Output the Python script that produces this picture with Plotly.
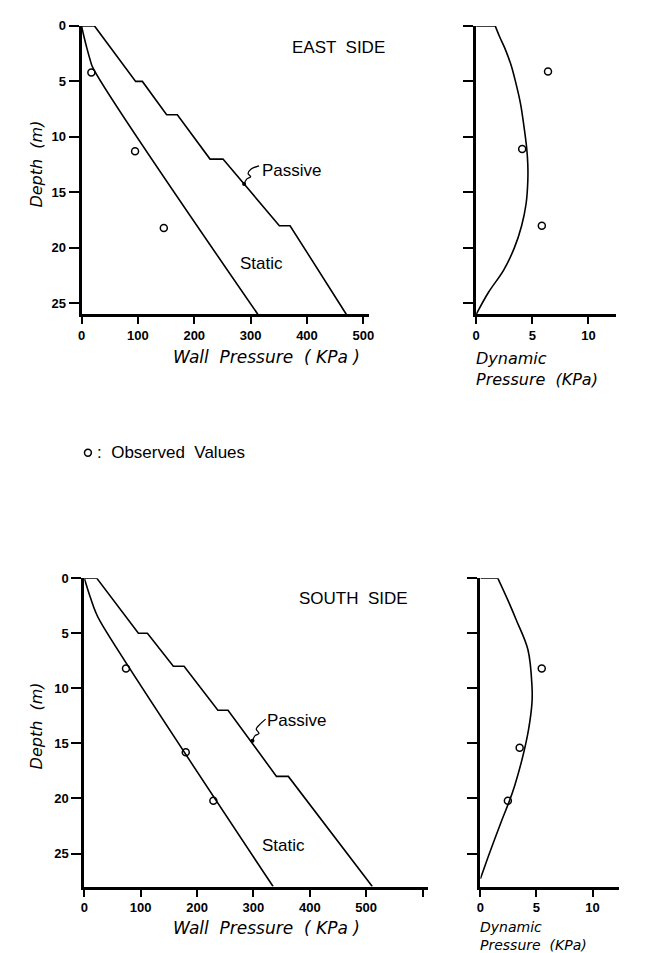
import plotly.graph_objects as go

W, H = 648, 953

# ---------------- data ----------------
east_passive_depth = [0, 0, 5, 5, 8, 8, 12, 12, 18, 18, 26]
east_passive_kpa = [0, 23, 96, 108, 151, 170, 228, 251, 351, 370, 470]
east_static_depth = [0, 1, 2, 3, 3.8, 26]
east_static_kpa = [0, 4.5, 9.5, 15, 20.5, 313]
east_obs_depth = [4.2, 11.3, 18.2]
east_obs_kpa = [17.5, 95, 146]
east_dyn_top_depth = [0, 0]
east_dyn_top_kpa = [0, 1.7]
east_dyn_depth = [0, 1, 2, 3.5, 5, 7, 9, 11, 12.5, 14, 16, 18, 20, 22, 24, 26]
east_dyn_kpa = [1.7, 2.1, 2.55, 3.1, 3.5, 3.95, 4.25, 4.5, 4.6, 4.6, 4.45, 4.05, 3.4, 2.45, 1.1, 0]
east_dyn_obs_depth = [4.1, 11.1, 18.0]
east_dyn_obs_kpa = [6.4, 4.1, 5.85]

south_passive_depth = [0, 0, 5, 5, 8, 8, 12, 12, 18, 18, 28]
south_passive_kpa = [0, 22, 96, 112, 158, 177, 237, 255, 341, 362, 511]
south_static_depth = [0, 1, 2, 3, 4, 28]
south_static_kpa = [0, 6, 12.5, 19.5, 29, 335]
south_obs_depth = [8.2, 15.8, 20.2]
south_obs_kpa = [74, 180, 229]
south_dyn_top_depth = [0, 0]
south_dyn_top_kpa = [0, 1.55]
south_dyn_depth = [0, 2, 3.8, 6.5, 9.8, 11.3, 13.7, 16.1, 18.8, 20.2, 22, 25, 27.3]
south_dyn_kpa = [1.55, 2.45, 3.2, 4.24, 4.6, 4.6, 4.3, 3.8, 3.07, 2.6, 1.9, 0.8, 0]
south_dyn_obs_depth = [8.2, 15.4, 20.2]
south_dyn_obs_kpa = [5.47, 3.5, 2.45]

# leader squiggles (kPa, depth)
east_leader_kpa = [288.5, 293, 300, 295.5, 301, 315]
east_leader_depth = [14.25, 13.8, 13.6, 13.3, 12.9, 12.6]
south_leader_kpa = [298.4, 303, 310, 305, 311, 321.7]
south_leader_depth = [14.76, 14.3, 14.1, 13.7, 13.3, 12.8]

wall_ticks = [0, 100, 200, 300, 400, 500]
wall_ticks_south = [0, 100, 200, 300, 400, 500, 600]
wall_ticktext_south = ["0", "100", "200", "300", "400", "500", ""]
dyn_ticks = [0, 5, 10]
depth_ticks = [0, 5, 10, 15, 20, 25]

# ---------------- helpers ----------------
def px(x):
    return x / W

def py(y):
    return 1 - y / H

LINE = dict(color="black", width=1.6)
TICKFONT = dict(family="Liberation Sans", size=13, color="black", weight="bold")
TXT = "Liberation Sans"

fig = go.Figure()

def line(x, y, xa, ya, shape="linear"):
    fig.add_trace(go.Scatter(x=x, y=y, mode="lines", line=dict(LINE, shape=shape),
                             xaxis=xa, yaxis=ya, showlegend=False, hoverinfo="skip"))

def obs(x, y, xa, ya):
    fig.add_trace(go.Scatter(x=x, y=y, mode="markers",
                             marker=dict(symbol="circle-open", size=7, color="black",
                                         line=dict(width=1.5, color="black")),
                             xaxis=xa, yaxis=ya, showlegend=False, hoverinfo="skip"))

def leader(x, y, xa, ya):
    fig.add_trace(go.Scatter(x=x, y=y, mode="lines", line=dict(color="black", width=1.3, shape="spline"),
                             xaxis=xa, yaxis=ya, showlegend=False, hoverinfo="skip"))
    fig.add_trace(go.Scatter(x=[x[0]], y=[y[0]], mode="markers",
                             marker=dict(symbol="circle", size=4, color="black"),
                             xaxis=xa, yaxis=ya, showlegend=False, hoverinfo="skip"))

# East wall
line(east_passive_kpa, east_passive_depth, "x", "y")
line(east_static_kpa, east_static_depth, "x", "y", "spline")
obs(east_obs_kpa, east_obs_depth, "x", "y")
leader(east_leader_kpa, east_leader_depth, "x", "y")
# East dynamic
line(east_dyn_top_kpa, east_dyn_top_depth, "x2", "y2")
line(east_dyn_kpa, east_dyn_depth, "x2", "y2", "spline")
obs(east_dyn_obs_kpa, east_dyn_obs_depth, "x2", "y2")
# South wall
line(south_passive_kpa, south_passive_depth, "x3", "y3")
line(south_static_kpa, south_static_depth, "x3", "y3", "spline")
obs(south_obs_kpa, south_obs_depth, "x3", "y3")
leader(south_leader_kpa, south_leader_depth, "x3", "y3")
# South dynamic
line(south_dyn_top_kpa, south_dyn_top_depth, "x4", "y4")
line(south_dyn_kpa, south_dyn_depth, "x4", "y4", "spline")
obs(south_dyn_obs_kpa, south_dyn_obs_depth, "x4", "y4")

def xax(dom, rng, ticks, anchor, ticktext=None):
    d = dict(domain=dom, range=rng, tickmode="array", tickvals=ticks,
             showline=True, linewidth=3, linecolor="black", ticks="outside",
             ticklen=7, tickwidth=2, tickcolor="black", showgrid=False, zeroline=False,
             tickfont=TICKFONT, anchor=anchor, fixedrange=True)
    if ticktext is not None:
        d["ticktext"] = ticktext
    return d

def yax(dom, rng, anchor, labels=True):
    return dict(domain=dom, range=rng, tickmode="array", tickvals=depth_ticks,
                showticklabels=labels, showline=True, linewidth=3, linecolor="black",
                ticks="outside", ticklen=10, tickwidth=2, tickcolor="black",
                showgrid=False, zeroline=False, tickfont=TICKFONT, anchor=anchor, fixedrange=True)

top_y = [py(301.7), py(11)]
bot_y = [py(878.0), py(567.3)]

fig.update_layout(
    width=W, height=H, margin=dict(l=0, r=0, t=0, b=0),
    paper_bgcolor="white", plot_bgcolor="white", showlegend=False,
    xaxis=xax([px(70.5), px(362)], [0, 510], wall_ticks, "y"),
    yaxis=yax(top_y, [26, 0], "x"),
    xaxis2=xax([px(470.7), px(613)], [0, 12.5], dyn_ticks, "y2"),
    yaxis2=yax(top_y, [26, 0], "x2", labels=False),
    xaxis3=xax([px(73.3), px(422)], [0, 610], wall_ticks_south, "y3", wall_ticktext_south),
    yaxis3=yax(bot_y, [28, 0], "x3"),
    xaxis4=xax([px(475), px(616)], [0, 12.4], dyn_ticks, "y4"),
    yaxis4=yax(bot_y, [28, 0], "x4", labels=False),
)

ann = []
def pa(text, x, y, size=17, xanchor="left", yanchor="middle", angle=0, family=TXT, align="left"):
    ann.append(dict(text=text, x=px(x), y=py(y), xref="paper", yref="paper",
                    showarrow=False, xanchor=xanchor, yanchor=yanchor, textangle=angle,
                    align=align, borderpad=0,
                    font=dict(family=family, size=size, color="black")))

def da(text, x, y, xr, yr, size=17, xanchor="left"):
    ann.append(dict(text=text, x=x, y=y, xref=xr, yref=yr, showarrow=False,
                    xanchor=xanchor, yanchor="middle",
                    font=dict(family=TXT, size=size, color="black")))

# panel labels
pa("EAST  SIDE", 283, 33, size=17)
pa("SOUTH  SIDE", 290, 588, size=17)
da("Passive", 317, 13.0, "x", "y")
da("Static", 277, 21.4, "x", "y")
da("Passive", 320, 12.9, "x3", "y3")
da("Static", 312, 24.3, "x3", "y3")

# axis titles
IT = "DejaVu Sans"
pa("<i>Depth  (m)</i>", 25, 150, size=16, xanchor="center", angle=-90, family=IT)
pa("<i>Depth  (m)</i>", 25, 716, size=16, xanchor="center", angle=-90, family=IT)
pa("<i>Wall  Pressure  ( KPa )</i>", 258, 345, size=17, xanchor="center", family=IT)
pa("<i>Wall  Pressure  ( KPa )</i>", 258, 920, size=17, xanchor="center", family=IT)
pa("<i>Dynamic<br>Pressure  (KPa)</i>", 470, 335, size=16, family=IT, yanchor="top")
pa("<i>Dynamic<br>Pressure  (KPa)</i>", 474, 910, size=14, family=IT, yanchor="top")

# observed values key
pa(":  Observed  Values", 85, 441, size=17)

fig.update_layout(annotations=ann)
fig.add_shape(type="circle", xref="paper", yref="paper",
              x0=px(73.5), x1=px(80.5), y0=py(444.5), y1=py(437.5),
              line=dict(color="black", width=1.5))

fig.write_html("out.html")
